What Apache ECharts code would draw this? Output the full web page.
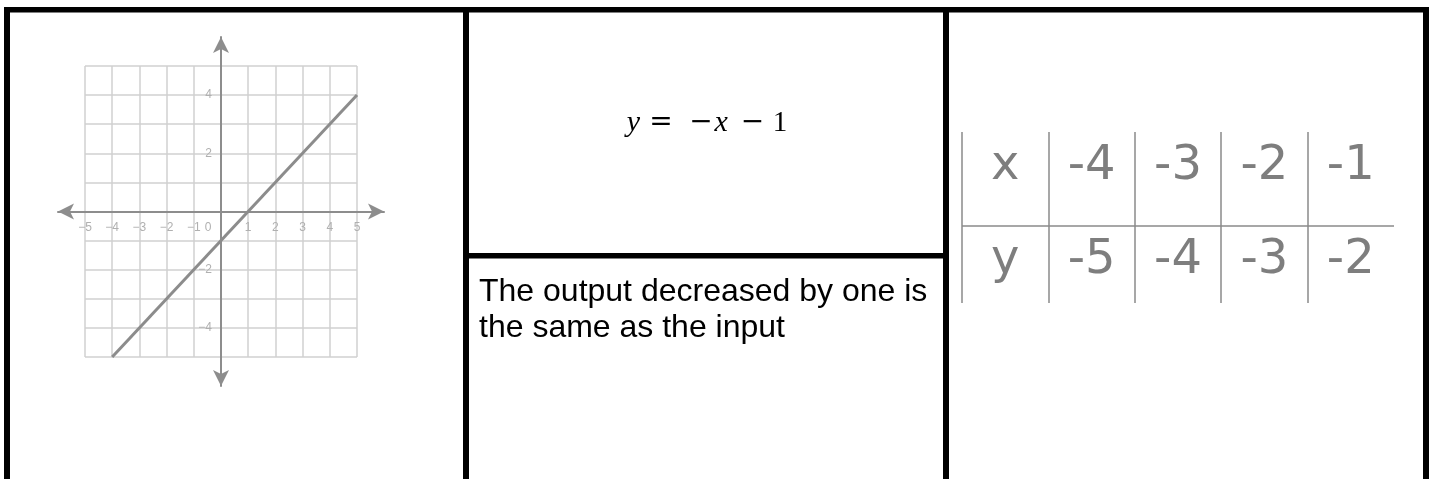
<!DOCTYPE html>
<html>
<head>
<meta charset="utf-8">
<script src="https://cdn.jsdelivr.net/npm/echarts@6/dist/echarts.min.js"></script>
<style>
  html, body { margin: 0; padding: 0; background: #ffffff; }
  #chart { width: 1431px; height: 479px; }
</style>
</head>
<body>
<div id="chart"></div>
<script>
// Graph of the line: endpoints of the drawn segment
const lineX = [-4, 5];
const lineY = [-5, 4];

// Coordinate plane ticks and their labels
const tickValues = [-5, -4, -3, -2, -1, 0, 1, 2, 3, 4, 5];
const xTickLabels = ['−5', '−4', '−3', '−2', '−1', '0', '1', '2', '3', '4', '5'];
const yTickLabels = ['', '−4', '', '−2', '', '', '', '2', '', '4', ''];

// Equation tokens
const equationTokens = ['y', '=', '−', 'x', '−', '1'];

// Verbal description
const statementLines = ['The output decreased by one is', 'the same as the input'];

// Table of values
const rowNames = ['x', 'y'];
const tableX = [-4, -3, -2, -1];
const tableY = [-5, -4, -3, -2];

// ---- build table cells ----
const tableRows = [tableX, tableY];
const tableCells = [];
rowNames.forEach((name, r) => {
  tableCells.push([0, r + 0.5, name]);
  tableRows[r].forEach((v, c) => tableCells.push([c + 1, r + 0.5, String(v)]));
});
const tableColumns = ['head'].concat(tableX.map((_, i) => 'c' + i));

const frameColor = '#000000';
const gridGray = '#d0d0d0';
const axisGray = '#8d8d8d';

// plane geometry: the labelled axes sit on the origin of the grid
const plane = { left: 85, top: 66, width: 272, height: 291 };

const chart = echarts.init(document.getElementById('chart'), null, { renderer: 'canvas' });

const frame = [
  { x: 4, y: 7, width: 1425, height: 5.5 },
  { x: 4, y: 7, width: 6, height: 472 },
  { x: 463, y: 7, width: 6, height: 472 },
  { x: 943, y: 7, width: 6, height: 472 },
  { x: 1423, y: 7, width: 6, height: 472 },
  { x: 463, y: 253, width: 486, height: 5.5 }
].map(s => ({ type: 'rect', shape: s, style: { fill: frameColor }, silent: true, z: 100 }));

// equation: italic letters in a serif face, operators in a wider math-like face
const eqPad = [0, 9.1, 16.6, 1.6, 13.1, 8.5];
const eqRich = {};
const eqText = equationTokens.map((t, i) => {
  const key = 't' + i;
  const isVar = /[a-z]/.test(t);
  const isOp = /[=−]/.test(t);
  eqRich[key] = {
    fontFamily: isOp ? 'DejaVu Serif' : 'Liberation Serif',
    fontSize: isVar ? 30 : (isOp ? 28 : 29),
    fontStyle: isVar ? 'italic' : 'normal',
    fill: '#000000',
    padding: [0, 0, 0, eqPad[i]]
  };
  return '{' + key + '|' + t + '}';
}).join('');

const planeLabel = { fontSize: 12, color: '#b0b0b0', fontFamily: 'Liberation Sans' };

const option = {
  backgroundColor: '#ffffff',
  animation: false,
  grid: [
    plane,
    { left: 58, top: 37, width: 326, height: 349 },
    { left: 962, top: 132, width: 432, height: 171 }
  ],
  xAxis: [
    {
      gridIndex: 0, type: 'value', min: -5, max: 5, interval: 1,
      position: 'bottom', offset: -plane.height / 2,
      axisLine: { show: false, onZero: false },
      axisTick: { show: false },
      axisLabel: Object.assign({
        show: true, margin: 10,
        formatter: v => {
          const lbl = xTickLabels[tickValues.indexOf(Math.round(v))];
          return v === 0 ? '{o|' + lbl + '}' : lbl;
        },
        rich: { o: Object.assign({ padding: [0, 26, 0, 0] }, planeLabel) }
      }, planeLabel),
      splitLine: { show: true, lineStyle: { color: gridGray, width: 1.5 } }
    },
    {
      gridIndex: 1, type: 'value', min: -1, max: 1,
      axisLine: { show: true, onZero: true, symbol: ['arrow', 'arrow'], symbolSize: [12, 16],
        lineStyle: { color: axisGray, width: 2 } },
      axisTick: { show: false }, axisLabel: { show: false }, splitLine: { show: false }
    },
    {
      gridIndex: 2, type: 'category', data: tableColumns, boundaryGap: true,
      axisLine: { show: false }, axisTick: { show: false }, axisLabel: { show: false },
      splitLine: { show: true, interval: 0, showMaxLine: false, lineStyle: { color: '#8a8a8a', width: 1.5 } }
    }
  ],
  yAxis: [
    {
      gridIndex: 0, type: 'value', min: -5, max: 5, interval: 1,
      position: 'left', offset: -plane.width / 2,
      axisLine: { show: false, onZero: false },
      axisTick: { show: false },
      axisLabel: Object.assign({
        show: true, margin: 9,
        formatter: v => yTickLabels[tickValues.indexOf(Math.round(v))]
      }, planeLabel),
      splitLine: { show: true, lineStyle: { color: gridGray, width: 1.5 } }
    },
    {
      gridIndex: 1, type: 'value', min: -1, max: 1,
      axisLine: { show: true, onZero: true, symbol: ['arrow', 'arrow'], symbolSize: [12, 16],
        lineStyle: { color: axisGray, width: 2 } },
      axisTick: { show: false }, axisLabel: { show: false }, splitLine: { show: false }
    },
    {
      gridIndex: 2, type: 'value', inverse: true, min: 0, max: 1.82, interval: 1,
      axisLine: { show: false }, axisTick: { show: false }, axisLabel: { show: false },
      splitLine: { show: true, showMinLine: false, showMaxLine: false, lineStyle: { color: '#8a8a8a', width: 1.5 } }
    }
  ],
  series: [
    {
      type: 'line', xAxisIndex: 0, yAxisIndex: 0,
      data: lineX.map((x, i) => [x, lineY[i]]),
      symbol: 'none', z: 5,
      lineStyle: { color: '#8c8c8c', width: 3 }
    },
    {
      type: 'scatter', xAxisIndex: 2, yAxisIndex: 2,
      data: tableCells,
      symbolSize: 1,
      itemStyle: { color: 'rgba(0,0,0,0)' },
      label: {
        show: true, position: 'inside', offset: [0, -12],
        formatter: p => p.value[2],
        fontFamily: 'DejaVu Sans', fontSize: 48, color: '#5e5e5e'
      }
    }
  ],
  graphic: frame.concat([
    {
      type: 'text', x: 626.85, y: 123, silent: true,
      style: { text: eqText, rich: eqRich, verticalAlign: 'middle', align: 'left' }
    },
    {
      type: 'text', x: 479, y: 274, silent: true,
      style: {
        text: statementLines.join('\n'),
        fontFamily: 'Liberation Sans', fontSize: 32, lineHeight: 36,
        fill: '#000000', verticalAlign: 'top', align: 'left'
      }
    }
  ])
};

chart.setOption(option);
</script>
</body>
</html>
